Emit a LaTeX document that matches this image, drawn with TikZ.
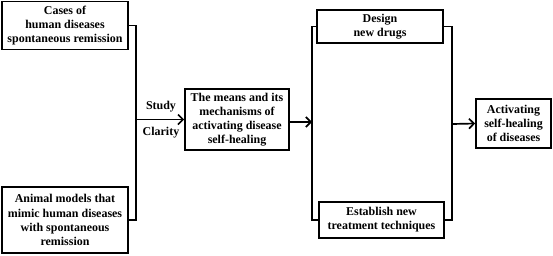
\documentclass[tikz,border=0pt]{standalone}
\usepackage{fontspec}
\setmainfont{Liberation Serif}
\usepackage{tikz}
\usetikzlibrary{arrows.meta,calc}

\begin{document}
\begin{tikzpicture}[x=1bp,y=-1bp,
    box/.style={draw,line width=1.7pt,align=center,inner sep=1pt,font=\fontsize{12}{14.2}\selectfont\bfseries},
    link/.style={line width=1.7pt},
    arr/.style={line width=1.7pt,-{Straight Barb[length=5pt,width=10pt]}},
    lbl/.style={font=\fontsize{12}{14.2}\selectfont\bfseries}]
        \useasboundingbox (0,0) rectangle (553,255);
        \node[box,minimum width=126bp,minimum height=48bp] (cases) at (65,25.5) {Cases of\\human diseases\\spontaneous remission};
        \node[box,minimum width=126bp,minimum height=66bp] (animal) at (65,220) {Animal models that\\mimic human diseases\\with spontaneous\\remission};
        \node[box,minimum width=104bp,minimum height=61bp] (means) at (237,119.5) {The means and its\\mechanisms of\\activating disease\\self-healing};
        \node[box,minimum width=126bp,minimum height=33bp] (design) at (380,26.5) {Design\\new drugs};
        \node[box,minimum width=125bp,minimum height=36bp] (establish) at (381.5,220) {Establish new\\treatment techniques};
        \node[box,minimum width=75bp,minimum height=49bp] (activ) at (513.5,123.5) {Activating\\self-healing\\of diseases};
        % junctions of the brackets
        \coordinate (jL) at (136,119.5);
        \coordinate (jM) at (312,122);
        \coordinate (jR) at (452,124);
        \draw[link] (cases.east) -| (jL) |- (animal.east);
        \draw[arr] (jL) -- (means.west);
        \node[lbl] (study) at (161,107) {Study};
        \node[lbl] (clarity) at (161,133) {Clarity};
        \draw[arr] (means.east |- jM) -- (jM);
        \draw[link] (design.west) -| (jM) |- (establish.west);
        \draw[link] (design.east) -| (jR) |- (establish.east);
        \draw[arr] (jR) -- (activ.west);
      \end{tikzpicture}
\end{document}
